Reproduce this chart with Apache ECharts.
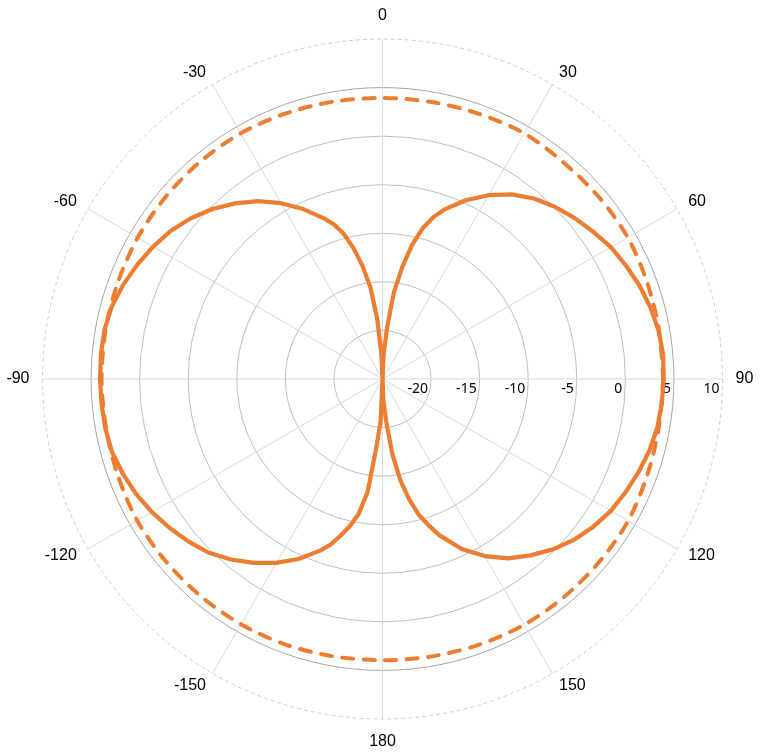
<!DOCTYPE html>
<html>
<head>
<meta charset="utf-8">
<script src="https://cdn.jsdelivr.net/npm/echarts@6/dist/echarts.min.js"></script>
<style>
html,body{margin:0;padding:0;background:#fff;}
#chart{width:762px;height:752px;}
</style>
</head>
<body>
<div id="chart"></div>
<script>
// Angles in degrees (0 at top, clockwise), values in dB
const solidAngles = [-180,-177.5,-175,-172.5,-170,-167.5,-165,-162.5,-160,-155,-150,-145,-140,-135,-130,-125,-120,-115,-110,-105,-100,-95,
  -90,-85,-80,-75,-70,-65,-60,-55,-50,-45,-40,-35,-30,-25,-20,-17.5,-15,-12.5,-10,-7.5,-5,-2.5,
  0,2.5,5,7.5,10,12.5,15,17.5,20,25,30,35,40,45,50,55,60,65,70,75,80,85,
  90,95,100,105,110,115,120,125,130,135,140,145,150,155,160,162.5,165,167.5,170,172.5,175,177.5];
const solidValues = [-25,-20.7,-18.1,-13.3,-10.9,-9.5,-8.3,-7.1,-6.2,-4.55,-3.15,-1.9,-0.75,0.3,1.05,1.75,2.4,3.0,3.45,3.85,3.98,4.03,
  4.08,4.1,4.06,3.85,3.4,2.85,2.25,1.6,0.75,-0.25,-1.4,-2.65,-4.1,-5.7,-7.4,-8.3,-9.5,-11.2,-13.2,-15.5,-18.8,-22.5,
  -25,-22.5,-19.8,-16,-13.3,-10.8,-8.9,-7.5,-6.45,-4.7,-3.15,-1.8,-0.75,0.08,0.8,1.45,2.15,2.65,3.15,3.55,3.85,4.0,
  3.95,3.87,3.73,3.45,3.05,2.6,2.15,1.5,0.75,-0.2,-1.3,-2.45,-3.95,-5.7,-7.9,-9.2,-10.5,-12.3,-14.4,-17.2,-20.6,-22.8];

const dashAngles = [-180,-170,-160,-150,-140,-130,-120,-110,-100,-90,-80,-70,-60,-50,-40,-30,-20,-10,
  0,10,20,30,40,50,60,70,80,90,100,110,120,130,140,150,160,170];
const dashValues = [3.95,4.0,4.1,4.15,4.15,4.15,4.15,4.0,3.9,3.92,3.95,4.0,4.1,4.15,4.2,4.2,4.1,4.0,
  3.93,3.95,4.05,4.2,4.05,4.1,4.15,4.0,3.9,3.9,3.88,4.0,4.2,4.2,4.2,4.2,4.1,4.0];

const angleTicks = [0,30,60,90,120,150,180,-150,-120,-90,-60,-30];
const radiusTicks = [-20,-15,-10,-5,0,5,10];

// map a compass angle (-180..180) to the axis range 90..450 (axis starts at the right, 90)
function toAxisAngle(a){ return a < 90 ? a + 360 : a; }
function buildLine(angles, values){
  const pts = angles.map((a,i)=>[values[i], toAxisAngle(a)]);
  pts.sort((p,q)=>p[1]-q[1]);
  pts.push([pts[0][0], pts[0][1] + 360]);
  return pts;
}

const chart = echarts.init(document.getElementById('chart'), null, {renderer:'canvas'});
const ringColor = '#c0c0c0';
const labelFont = 'Liberation Sans, Arial, sans-serif';
chart.setOption({
  animation:false,
  backgroundColor:'#ffffff',
  polar:{ center:[382.5,379], radius:340 },
  angleAxis:{
    type:'value', min:90, max:450, interval:30, startAngle:0, clockwise:true,
    axisLine:{show:true, lineStyle:{color:'#cfcfcf', width:1, type:[4,3]}},
    axisTick:{show:false},
    splitLine:{show:true, lineStyle:{color:'#d9d9d9', width:1}},
    axisLabel:{
      show:true, margin:13, fontSize:16, color:'#000', lineHeight:1,
      fontFamily:labelFont,
      rich:{ v:{fontSize:16, color:'#000', fontFamily:labelFont, lineHeight:20} },
      formatter:function(v){
        let d = ((v % 360) + 360) % 360;
        if (d > 180) d -= 360;
        if (angleTicks.indexOf(d) < 0) return '';
        if (d === 0 || d === 180) return '{v|' + d + '}';
        return String(d);
      }
    }
  },
  radiusAxis:{
    type:'value', min:-25, max:10, interval:5,
    axisLine:{show:false},
    axisTick:{show:false},
    splitLine:{show:true, lineStyle:{
      color:['rgba(0,0,0,0)',ringColor,ringColor,ringColor,ringColor,ringColor,'#a6a6a6','rgba(0,0,0,0)'],
      width:1}},
    axisLabel:{
      show:true, margin:-3, fontSize:14, color:'#000',
      fontFamily:'Noto Sans, sans-serif',
      align:'right', verticalAlign:'top', padding:[0,3,0,0],
      formatter:function(v){ return radiusTicks.indexOf(v) >= 0 ? String(v) : ''; }
    }
  },
  series:[
    {
      type:'line', coordinateSystem:'polar', symbol:'none', smooth:false,
      data: buildLine(solidAngles, solidValues),
      lineStyle:{color:'#ED7D31', width:4.2, join:'round', cap:'round'},
      z:3
    },
    {
      type:'line', coordinateSystem:'polar', symbol:'none', smooth:0.3,
      data: buildLine(dashAngles, dashValues),
      lineStyle:{color:'#ED7D31', width:4, type:[11,10.5], cap:'round'},
      z:2
    }
  ]
});
</script>
</body>
</html>
